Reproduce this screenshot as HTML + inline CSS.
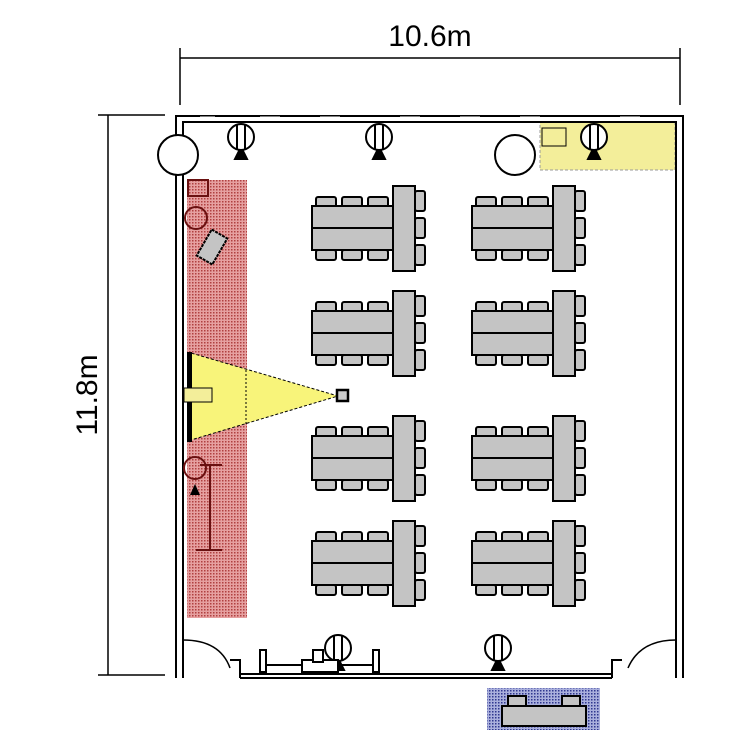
<!DOCTYPE html>
<html><head><style>body{margin:0;background:#fff}svg{display:block}</style></head>
<body>
<svg width="750" height="750" viewBox="0 0 750 750" xmlns="http://www.w3.org/2000/svg">
<defs>
<g id="grp" stroke="#000" stroke-width="2" fill="#c4c4c4">
  <rect x="4" y="12" width="20" height="10" rx="2"/>
  <rect x="30" y="12" width="20" height="10" rx="2"/>
  <rect x="56" y="12" width="20" height="10" rx="2"/>
  <rect x="4" y="65" width="20" height="10" rx="2"/>
  <rect x="30" y="65" width="20" height="10" rx="2"/>
  <rect x="56" y="65" width="20" height="10" rx="2"/>
  <rect x="0" y="21" width="82" height="22"/>
  <rect x="0" y="43" width="82" height="22"/>
  <rect x="103" y="6" width="10" height="20" rx="2"/>
  <rect x="103" y="33" width="10" height="20" rx="2"/>
  <rect x="103" y="60" width="10" height="20" rx="2"/>
  <rect x="81" y="1" width="22" height="85"/>
</g>
<g id="lamp" stroke="#000" stroke-width="2" fill="#fff">
  <circle cx="0" cy="0" r="13"/>
  <line x1="-4" y1="-12" x2="-4" y2="12"/><line x1="4" y1="-12" x2="4" y2="12"/>
  <path d="M-6 22 L6 22 L2 14 L-2 14Z" fill="#000"/>
</g>
<pattern id="red" width="3" height="3" patternUnits="userSpaceOnUse"><rect width="3" height="3" fill="#e6a0a0"/><rect width="1.5" height="1.5" fill="#b04040"/></pattern>
<pattern id="blue" width="3" height="3" patternUnits="userSpaceOnUse"><rect width="3" height="3" fill="#aab0dd"/><rect width="1.5" height="1.5" fill="#303890"/></pattern>
</defs>
<text x="430" y="46" font-family="Liberation Sans, sans-serif" font-size="30" text-anchor="middle">10.6m</text>
<text transform="translate(97,395) rotate(-90)" font-family="Liberation Sans, sans-serif" font-size="30" text-anchor="middle">11.8m</text>
<g stroke="#000" stroke-width="1.5">
<line x1="180" y1="58" x2="680" y2="58"/><line x1="180" y1="48" x2="180" y2="105"/><line x1="680" y1="48" x2="680" y2="105"/>
<line x1="108" y1="115" x2="108" y2="675"/><line x1="98" y1="115" x2="165" y2="115"/><line x1="98" y1="675" x2="165" y2="675"/>
</g>
<rect x="187" y="180" width="60" height="438" fill="url(#red)"/>
<rect x="540" y="122" width="135" height="48" fill="#f3ee9a" stroke="#999" stroke-dasharray="3 2"/>
<rect x="487" y="688" width="113" height="42" fill="url(#blue)"/>
<rect x="502" y="706" width="84" height="20" fill="#c4c4c4" stroke="#000" stroke-width="2"/>
<rect x="508" y="696" width="18" height="10" fill="#c4c4c4" stroke="#000" stroke-width="2"/>
<rect x="562" y="696" width="18" height="10" fill="#c4c4c4" stroke="#000" stroke-width="2"/>
<!-- walls -->
<g fill="none" stroke="#000" stroke-width="2">
<path d="M176 678 L176 116 L683 116 L683 678"/>
<path d="M183 678 L183 122 L676 122 L676 678"/>
<line x1="240" y1="678" x2="612" y2="678"/><line x1="240" y1="674" x2="612" y2="674"/>
<path d="M183 645 L183 678 M240 678 L240 660 L230 660"/>
<path d="M183 640 Q220 640 230 668" stroke-width="1.5"/>
<path d="M676 645 L676 678 M612 678 L612 660 L622 660"/>
<path d="M676 640 Q640 640 628 668" stroke-width="1.5"/>
</g>
<g stroke="#fff" stroke-width="3"><line x1="200" y1="118" x2="215" y2="118"/><line x1="260" y1="118" x2="280" y2="118"/><line x1="320" y1="118" x2="340" y2="118"/><line x1="400" y1="118" x2="420" y2="118"/><line x1="460" y1="118" x2="480" y2="118"/><line x1="520" y1="118" x2="540" y2="118"/><line x1="620" y1="118" x2="640" y2="118"/></g>
<circle cx="178" cy="155" r="20" fill="#fff" stroke="#000" stroke-width="2"/>
<circle cx="515" cy="155" r="20" fill="#fff" stroke="#000" stroke-width="2"/>
<use href="#grp" x="312" y="185"/><use href="#grp" x="472" y="185"/>
<use href="#grp" x="312" y="290"/><use href="#grp" x="472" y="290"/>
<use href="#grp" x="312" y="415"/><use href="#grp" x="472" y="415"/>
<use href="#grp" x="312" y="520"/><use href="#grp" x="472" y="520"/>
<use href="#lamp" x="241" y="137"/><use href="#lamp" x="379" y="137"/><use href="#lamp" x="594" y="137"/>
<use href="#lamp" x="498" y="648"/><use href="#lamp" x="338" y="648"/>
<rect x="542" y="128" width="24" height="18" fill="#f3ee9a" stroke="#000"/>
<polygon points="191,353 191,440 338,396" fill="#f8f47a" stroke="#000" stroke-dasharray="3 2"/>
<line x1="246" y1="370" x2="246" y2="425" stroke="#000" stroke-dasharray="2 2"/>
<rect x="337" y="390" width="11" height="11" fill="#ccc" stroke="#000" stroke-width="2.5"/>
<rect x="187" y="352" width="5" height="90" fill="#000"/>
<rect x="184" y="388" width="28" height="14" fill="#f3ee9a" stroke="#000"/>
<g stroke="#6a1010" fill="none" stroke-width="2">
<circle cx="196" cy="218" r="11"/><rect x="188" y="180" width="20" height="16"/>
<circle cx="195" cy="468" r="11"/>
<line x1="210" y1="465" x2="210" y2="550"/><line x1="200" y1="465" x2="222" y2="465"/><line x1="196" y1="550" x2="222" y2="550"/>
</g>
<rect x="203" y="232" width="18" height="30" fill="#c4c4c4" stroke="#000" stroke-width="2" stroke-dasharray="3 1" transform="rotate(30 212 247)"/>
<path d="M190 495 L200 495 L195 484Z" fill="#000"/>
<g stroke="#000" stroke-width="2" fill="#fff">
<rect x="260" y="650" width="6" height="22"/><rect x="373" y="650" width="6" height="22"/>
<line x1="266" y1="665" x2="373" y2="665"/>
<rect x="302" y="660" width="36" height="12"/><rect x="313" y="650" width="10" height="12"/>
</g>
</svg>
</body></html>
